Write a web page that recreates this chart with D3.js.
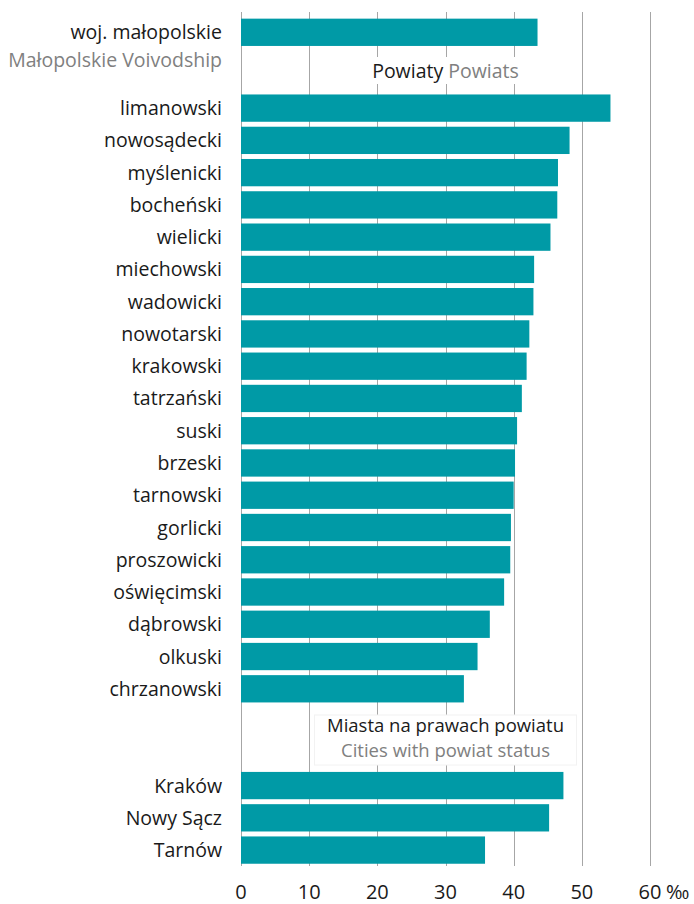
<!DOCTYPE html>
<html>
<head>
<meta charset="utf-8">
<script src="https://cdn.jsdelivr.net/npm/d3@7"></script>
<style>
  body { margin: 0; background: #fff; }
  svg { display: block; font-family: "Open Sans", sans-serif; }
</style>
</head>
<body>
<div id="chart"></div>
<script>
// values in per mille
const totalLabel = "woj. małopolskie";
const totalLabelEn = "Małopolskie Voivodship";
const totalValue = 43.5;

const powiats = ["limanowski", "nowosądecki", "myślenicki", "bocheński", "wielicki", "miechowski",
  "wadowicki", "nowotarski", "krakowski", "tatrzański", "suski", "brzeski", "tarnowski",
  "gorlicki", "proszowicki", "oświęcimski", "dąbrowski", "olkuski", "chrzanowski"];
const powiatValues = [54.2, 48.2, 46.5, 46.4, 45.4, 43.0, 42.9, 42.3, 41.9, 41.2, 40.5, 40.2, 40.0,
  39.6, 39.5, 38.6, 36.5, 34.7, 32.7];

const cities = ["Kraków", "Nowy Sącz", "Tarnów"];
const cityValues = [47.3, 45.2, 35.8];

const xTicks = [0, 10, 20, 30, 40, 50, 60];

const width = 694, height = 904;
const barColor = "#009aa6";
const dark = "#1a1a1a", grey = "#808080";
const fs = "19.5px";

// rows laid out on a slot scale (one slot = one bar step)
const rows = [{ name: totalLabel, value: totalValue, slot: 0 }]
  .concat(powiats.map((d, i) => ({ name: d, value: powiatValues[i], slot: 2.35 + i })))
  .concat(cities.map((d, i) => ({ name: d, value: cityValues[i], slot: 2.35 + powiats.length + 2 + i })));

const x = d3.scaleLinear().domain([0, 60]).range([241, 650]);
const y = d3.scaleLinear().domain([0, 1]).range([32.3, 32.3 + 32.26]);
const barH = 27.3;

const svg = d3.select("#chart").append("svg")
  .attr("width", width)
  .attr("height", height);

// grid lines
svg.append("g")
  .selectAll("line")
  .data(xTicks)
  .enter().append("line")
  .attr("x1", d => Math.round(x(d)) + 0.5)
  .attr("x2", d => Math.round(x(d)) + 0.5)
  .attr("y1", 12)
  .attr("y2", 866)
  .attr("stroke", "#a6a6a6")
  .attr("stroke-width", 1);

// section headers with white boxes over the grid
const hdr1 = svg.append("g").attr("transform", `translate(${x(30)}, 78)`);
hdr1.append("rect")
  .attr("x", -76).attr("y", -21).attr("width", 152).attr("height", 27)
  .attr("fill", "#fff");
const t1 = hdr1.append("text").attr("text-anchor", "middle").style("font-size", fs);
t1.append("tspan").attr("fill", dark).text("Powiaty ");
t1.append("tspan").attr("fill", grey).text("Powiats");

const hdr2 = svg.append("g").attr("transform", `translate(${x(30)}, 732)`);
hdr2.append("rect")
  .attr("x", -131).attr("y", -17).attr("width", 262).attr("height", 50)
  .attr("fill", "#fff").attr("stroke", "#f2f2f2");
hdr2.append("text").attr("text-anchor", "middle").style("font-size", "18.5px")
  .attr("fill", dark).text("Miasta na prawach powiatu");
hdr2.append("text").attr("text-anchor", "middle").attr("y", 25).style("font-size", "18.5px")
  .attr("fill", grey).text("Cities with powiat status");

// bars
svg.append("g")
  .selectAll("rect")
  .data(rows)
  .enter().append("rect")
  .attr("x", x(0))
  .attr("y", d => y(d.slot) - barH / 2)
  .attr("width", d => x(d.value) - x(0))
  .attr("height", barH)
  .attr("fill", barColor);

// category labels
svg.append("g")
  .selectAll("text")
  .data(rows)
  .enter().append("text")
  .attr("x", 222)
  .attr("y", d => y(d.slot))
  .attr("dy", "0.36em")
  .attr("text-anchor", "end")
  .attr("fill", dark)
  .style("font-size", fs)
  .text(d => d.name);

svg.append("text")
  .attr("x", 222)
  .attr("y", y(0) + 34.5)
  .attr("text-anchor", "end")
  .attr("fill", grey)
  .style("font-size", fs)
  .text(totalLabelEn);

// x axis labels
svg.append("g")
  .selectAll("text")
  .data(xTicks)
  .enter().append("text")
  .attr("x", d => x(d))
  .attr("y", 899)
  .attr("text-anchor", "middle")
  .attr("fill", dark)
  .style("font-size", "20px")
  .text(d => d);

svg.append("text")
  .attr("x", x(60) + 16)
  .attr("y", 899)
  .attr("fill", dark)
  .style("font-size", "20px")
  .text("‰");
</script>
</body>
</html>
